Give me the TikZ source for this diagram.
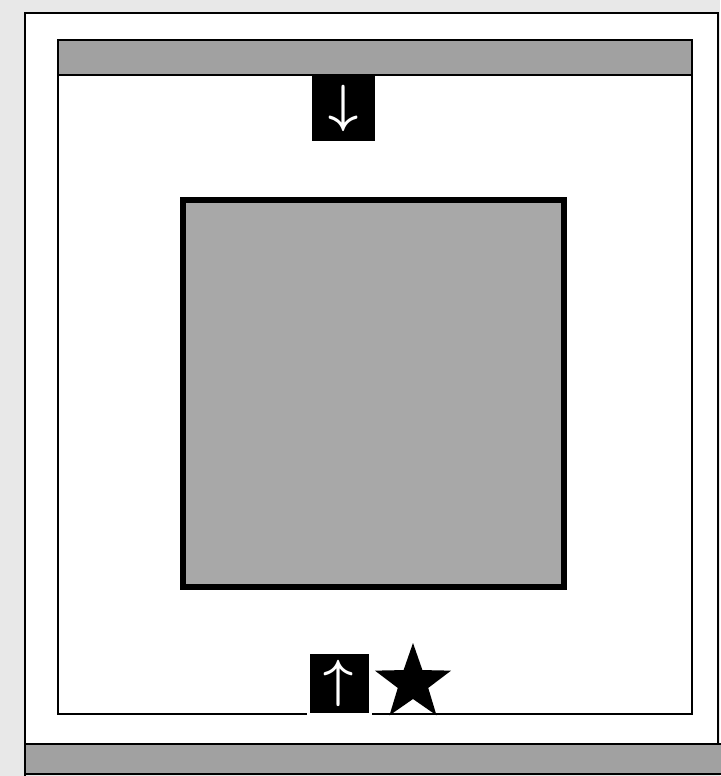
\documentclass[tikz,border=0pt]{standalone}
\usetikzlibrary{shapes.geometric}
\definecolor{paper}{gray}{0.91}
\definecolor{panel}{gray}{0.63}
\definecolor{slab}{gray}{0.66}
\newcommand{\bigglyph}[1]{\scalebox{2.1}{\boldmath$#1$}}
\tikzset{
  arrowbox/.style={fill=black, text=white, inner sep=0pt, font=\Huge},
  mark star/.style={star, star points=5, star point ratio=2.5,
    fill=black, inner sep=0pt, minimum size=80pt}
}
\begin{document}
\begin{tikzpicture}[x=1pt,y=-1pt]
    \fill[paper] (0,0) rectangle (720,776);
    \useasboundingbox (0,0) rectangle (720,776);
    % outer frame
    \fill[white] (25,13) rectangle (718,744);
    \draw[line width=2.5pt] (25,776) -- (25,13) -- (718,13) -- (718,744);
    \filldraw[fill=panel, line width=2pt] (25,744) rectangle (722,774);
    % window
    \filldraw[fill=panel, line width=2pt] (58,40) rectangle (692,75);
    \draw[line width=2pt] (58,75) rectangle (692,714);
    % square
    \filldraw[fill=slab, line width=6pt] (183,200) rectangle (564,587);
    % buttons
    \node[arrowbox, minimum width=63pt, minimum height=65pt] (down) at (343.5,108.5) {\bigglyph{\downarrow}};
    \node[arrowbox, draw=white, line width=3pt, minimum width=62pt, minimum height=62pt] (up) at (339,683) {\bigglyph{\uparrow}};
    \node[mark star] (star) at (413,683) {};
\end{tikzpicture}
\end{document}
